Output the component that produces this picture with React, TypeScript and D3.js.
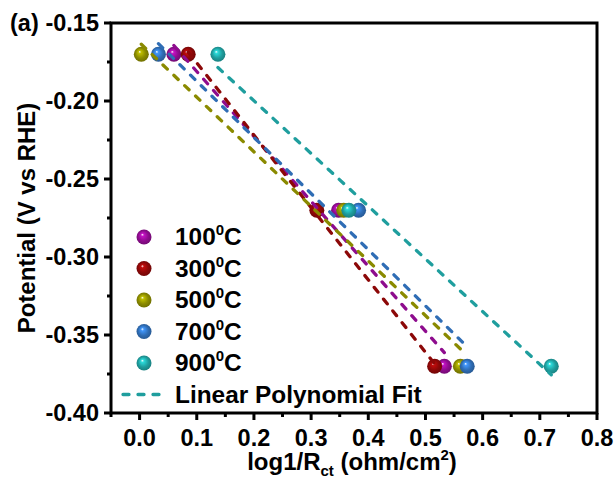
import React, { useEffect, useRef } from "react";
import * as d3 from "d3";

// series (temperature in C)
const temps = ["100", "300", "500", "700", "900"];
const colors = ["#8e0c8e", "#8c0808", "#8a8a00", "#2f6db5", "#1f9e9e"];
const potentials = [-0.17, -0.27, -0.37];
const x100 = [0.06, 0.348, 0.533];
const x300 = [0.085, 0.31, 0.516];
const x500 = [0.003, 0.357, 0.561];
const x700 = [0.033, 0.383, 0.573];
const x900 = [0.137, 0.366, 0.72];
const xSeries = [x100, x300, x500, x700, x900];

const xTicks = [0, 0.1, 0.2, 0.3, 0.4, 0.5, 0.6, 0.7, 0.8];
const yTicks = [-0.15, -0.2, -0.25, -0.3, -0.35, -0.4];

const W = 616;
const H = 482;
const margin = { left: 111, top: 23, right: 19, bottom: 69 };
const FONT = "'Liberation Sans', Arial, sans-serif";

function fit(xs: number[], ys: number[]) {
  const mx = d3.mean(xs) as number;
  const my = d3.mean(ys) as number;
  let sxy = 0, sxx = 0;
  xs.forEach((x, i) => {
    sxy += (x - mx) * (ys[i] - my);
    sxx += (x - mx) * (x - mx);
  });
  const k = sxy / sxx;
  return (x: number) => my + k * (x - mx);
}

export default function App() {
  const ref = useRef<SVGSVGElement>(null);

  useEffect(() => {
    const svg = d3.select(ref.current);
    svg.selectAll("*").remove();

    const x = d3.scaleLinear().domain([-0.05, 0.8]).range([margin.left, W - margin.right]);
    const y = d3.scaleLinear().domain([-0.4, -0.15]).range([H - margin.bottom, margin.top]);

    const defs = svg.append("defs");
    colors.forEach((c, i) => {
      const g = defs.append("radialGradient").attr("id", "ball" + i)
        .attr("cx", "0.5").attr("cy", "0.5").attr("r", "0.55")
        .attr("fx", "0.38").attr("fy", "0.33");
      g.append("stop").attr("offset", "0%").attr("stop-color", "#ffffff");
      g.append("stop").attr("offset", "18%").attr("stop-color", d3.color(c)!.brighter(0.9).formatHex());
      g.append("stop").attr("offset", "60%").attr("stop-color", c);
      g.append("stop").attr("offset", "100%").attr("stop-color", d3.color(c)!.darker(0.7).formatHex());
    });

    const plot = svg.append("g");

    // points
    xSeries.forEach((xs, i) => {
      plot.selectAll(null).data(xs).enter().append("circle")
        .attr("cx", d => x(d))
        .attr("cy", (d, j) => y(potentials[j]))
        .attr("r", 7.5)
        .attr("fill", `url(#ball${i})`);
    });

    // fit lines
    xSeries.forEach((xs, i) => {
      const f = fit(xs, potentials);
      const x0 = d3.min(xs) as number;
      const x1 = d3.max(xs) as number;
      plot.append("line")
        .attr("x1", x(x0)).attr("y1", y(f(x0)))
        .attr("x2", x(x1)).attr("y2", y(f(x1)))
        .attr("stroke", colors[i])
        .attr("stroke-width", 3.3)
        .attr("stroke-linecap", "round")
        .attr("stroke-dasharray", "6,9");
    });

    // frame
    svg.append("rect")
      .attr("x", margin.left).attr("y", margin.top)
      .attr("width", W - margin.left - margin.right)
      .attr("height", H - margin.top - margin.bottom)
      .attr("fill", "none").attr("stroke", "#000").attr("stroke-width", 3);

    const bottom = H - margin.bottom;
    // x ticks
    const xMinor = d3.range(-0.05, 0.8001, 0.05);
    svg.selectAll(null).data(xMinor).enter().append("line")
      .attr("x1", d => x(d)).attr("x2", d => x(d))
      .attr("y1", bottom).attr("y2", (d, i) => bottom + (i % 2 === 1 ? 7 : 4))
      .attr("stroke", "#000").attr("stroke-width", 3);
    svg.selectAll(null).data(xTicks).enter().append("text")
      .attr("x", d => x(d)).attr("y", bottom + 33)
      .attr("text-anchor", "middle")
      .style("font", `bold 23.5px ${FONT}`)
      .text(d => d.toFixed(1));

    // y ticks
    const yMinor = d3.range(-0.4, -0.1499, 0.025);
    svg.selectAll(null).data(yMinor).enter().append("line")
      .attr("y1", d => y(d)).attr("y2", d => y(d))
      .attr("x1", margin.left).attr("x2", (d, i) => margin.left - (i % 2 === 0 ? 7 : 4))
      .attr("stroke", "#000").attr("stroke-width", 3);
    svg.selectAll(null).data(yTicks).enter().append("text")
      .attr("x", margin.left - 12).attr("y", d => y(d) + 8)
      .attr("text-anchor", "end")
      .style("font", `bold 23.5px ${FONT}`)
      .text(d => d.toFixed(2));

    // axis labels
    svg.append("text")
      .attr("transform", `translate(35, 218) rotate(-90)`)
      .attr("text-anchor", "middle")
      .style("font", `bold 24px ${FONT}`)
      .text("Potential (V vs RHE)");

    const xl = svg.append("text")
      .attr("x", 352).attr("y", 470)
      .attr("text-anchor", "middle")
      .style("font", `bold 24px ${FONT}`);
    xl.append("tspan").text("log1/R");
    xl.append("tspan").attr("dy", 6).style("font-size", "15px").text("ct");
    xl.append("tspan").attr("dy", -6).text(" (ohm/cm");
    xl.append("tspan").attr("dy", -10).style("font-size", "15px").text("2");
    xl.append("tspan").attr("dy", 10).text(")");

    svg.append("text").attr("x", 10).attr("y", 31)
      .style("font", `bold 23.5px ${FONT}`).text("(a)");

    // legend
    const leg = svg.append("g");
    temps.forEach((t, i) => {
      const ly = 237 + i * 31.5;
      leg.append("circle").attr("cx", 144).attr("cy", ly).attr("r", 7.5)
        .attr("fill", `url(#ball${i})`);
      const tx = leg.append("text").attr("x", 175).attr("y", ly + 8)
        .style("font", `bold 24.4px ${FONT}`);
      tx.append("tspan").text(t);
      tx.append("tspan").attr("dy", -10).style("font-size", "15px").text("0");
      tx.append("tspan").attr("dy", 10).text("C");
    });
    const fy = 237 + 5 * 31.5;
    leg.append("line").attr("x1", 123).attr("x2", 163).attr("y1", fy).attr("y2", fy)
      .attr("stroke", colors[4]).attr("stroke-width", 3.3)
      .attr("stroke-linecap", "round").attr("stroke-dasharray", "6,9");
    leg.append("text").attr("x", 175).attr("y", fy + 8)
      .style("font", `bold 24.4px ${FONT}`).text("Linear Polynomial Fit");
  }, []);

  return (
    <svg ref={ref} width={W} height={H}
      style={{ position: "absolute", left: 0, top: 0, background: "#fff" }} />
  );
}
